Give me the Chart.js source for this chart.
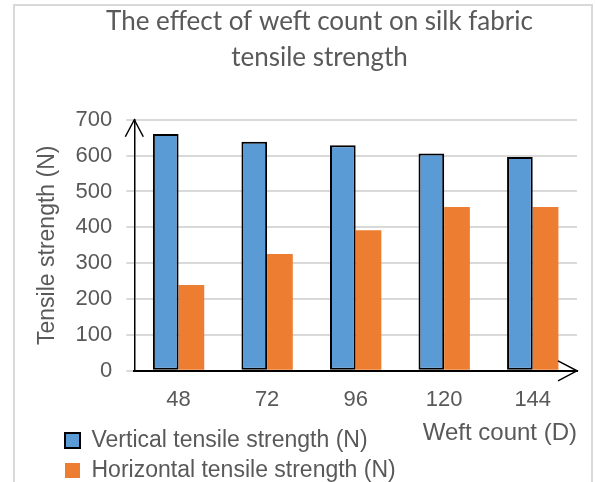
<!DOCTYPE html>
<html>
<head>
<meta charset="utf-8">
<script src="https://cdn.jsdelivr.net/npm/chart.js@4/dist/chart.umd.min.js"></script>
<style>
  body { margin: 0; background: #fff; }
  #wrap { position: relative; width: 595px; height: 482px; overflow: hidden; }
  #frame { position: absolute; left: 13px; top: 4px; width: 580px; height: 600px; box-sizing: border-box;
           border: 2px solid #d9d9d9; border-bottom: none; pointer-events: none; }
</style>
</head>
<body>
<div id="wrap">
  <canvas id="chartSilk" width="595" height="482"></canvas>
  <div id="frame"></div>
</div>
<script>
const weftCounts = ['48', '72', '96', '120', '144']
const verticalStrength = [660, 639, 629, 606, 596]
const horizontalStrength = [239, 326, 392, 457, 457]
const titleLines = ['The effect of weft count on silk fabric', 'tensile strength']

const grey = '#595959'

// little open arrowheads at the ends of both axes
const axisArrows = {
    id: 'axisArrows',
    afterDraw(chart) {
        const ctx = chart.ctx
        const a = chart.chartArea
        ctx.save()
        ctx.strokeStyle = '#000'
        ctx.lineWidth = 1.5
        ctx.beginPath()
        ctx.moveTo(a.left - 9, a.top + 17)
        ctx.lineTo(a.left, a.top)
        ctx.lineTo(a.left + 9, a.top + 17)
        ctx.moveTo(a.right - 19, a.bottom - 10)
        ctx.lineTo(a.right, a.bottom)
        ctx.lineTo(a.right - 19, a.bottom + 10)
        ctx.stroke()
        ctx.restore()
    }
}

// legend sits near the left edge and a bit lower than the layout puts it,
// title is centred a little right of the canvas middle
const boxShift = {
    id: 'boxShift',
    afterLayout(chart) {
        chart.legend.left = 58
        chart.legend.top += 10
        chart.titleBlock.left += 14
        chart.titleBlock.right += 14
    }
}

var ctxSilk = document.getElementById('chartSilk').getContext('2d');
var chartSilk = new Chart(ctxSilk, {
    type: 'bar',
    data: {
        labels: weftCounts,
        datasets: [{
            label: 'Vertical tensile strength (N)',
            data: verticalStrength,
            backgroundColor: '#5b9bd5',
            borderColor: '#000',
            borderWidth: 2,
            borderSkipped: false,
            categoryPercentage: 0.58,
            barPercentage: 1
        }, {
            label: 'Horizontal tensile strength (N)',
            data: horizontalStrength,
            backgroundColor: '#ed7d31',
            borderWidth: 0,
            categoryPercentage: 0.58,
            barPercentage: 1
        }]
    },
    options: {
        responsive: false,
        animation: false,
        layout: { padding: { left: 34, right: 18, top: 0, bottom: 0 } },
        plugins: {
            title: {
                display: true,
                text: titleLines,
                color: grey,
                font: { family: 'Lato', size: 26, weight: 'normal', lineHeight: 1.38 },
                padding: { top: 4, bottom: 44 }
            },
            legend: {
                position: 'bottom',
                align: 'start',
                labels: {
                    color: grey,
                    font: { family: 'Liberation Sans', size: 23 },
                    boxWidth: 15,
                    boxHeight: 15,
                    padding: 7
                }
            },
            tooltip: { enabled: false }
        },
        scales: {
            x: {
                grid: { display: false, drawTicks: false },
                border: { display: true, color: '#000', width: 2 },
                ticks: { color: grey, font: { family: 'Liberation Sans', size: 22 }, padding: 16 },
                title: {
                    display: true,
                    text: 'Weft count (D)',
                    align: 'end',
                    color: grey,
                    font: { family: 'Liberation Sans', size: 24 },
                    padding: { top: -10, bottom: -36 }
                }
            },
            y: {
                min: 0,
                max: 700,
                grid: { color: '#d9d9d9', lineWidth: 2, tickLength: 8 },
                border: { display: true, color: '#000', width: 1.5 },
                ticks: { stepSize: 100, color: grey, font: { family: 'Liberation Sans', size: 22 }, padding: 14 },
                title: {
                    display: true,
                    text: 'Tensile strength (N)',
                    color: grey,
                    font: { family: 'Liberation Sans', size: 23 },
                    padding: { top: 0, bottom: 0 }
                }
            }
        }
    },
    plugins: [axisArrows, boxShift]
});
</script>
</body>
</html>
